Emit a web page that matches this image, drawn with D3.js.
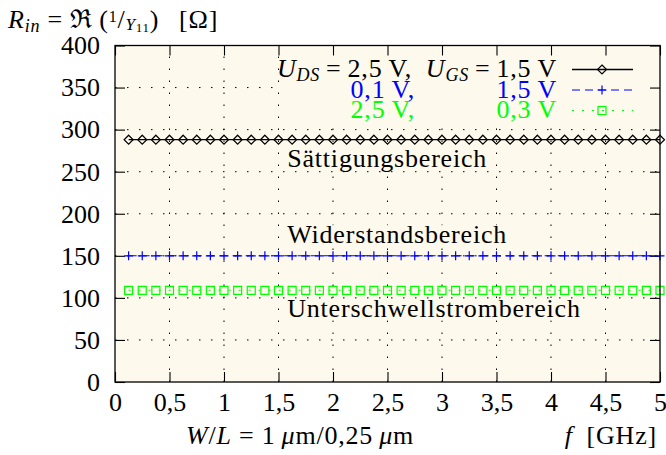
<!DOCTYPE html>
<html>
<head>
<meta charset="utf-8">
<script src="https://cdn.jsdelivr.net/npm/d3@7"></script>
<style>
  body { margin: 0; background: #fff; }
  svg text { font-family: "Liberation Serif", "Times New Roman", serif; fill: #000; }
</style>
</head>
<body>
<svg id="chart" width="666" height="455"></svg>
<script>
// Frequency sweep (GHz) and real part of the input impedance (Ohm)
const freqGHz = [
  0.125, 0.25, 0.375, 0.5, 0.625, 0.75, 0.875, 1.0,
  1.125, 1.25, 1.375, 1.5, 1.625, 1.75, 1.875, 2.0,
  2.125, 2.25, 2.375, 2.5, 2.625, 2.75, 2.875, 3.0,
  3.125, 3.25, 3.375, 3.5, 3.625, 3.75, 3.875, 4.0,
  4.125, 4.25, 4.375, 4.5, 4.625, 4.75, 4.875, 5.0
];
// U_DS = 2,5 V, U_GS = 1,5 V (saturation)
const rinSaturation = [
  288, 288, 288, 288, 288, 288, 288, 288,
  288, 288, 288, 288, 288, 288, 288, 288,
  288, 288, 288, 288, 288, 288, 288, 288,
  288, 288, 288, 288, 288, 288, 288, 288,
  288, 288, 288, 288, 288, 288, 288, 288
];
// U_DS = 0,1 V, U_GS = 1,5 V (triode)
const rinTriode = [
  150, 150, 150, 150, 150, 150, 150, 150,
  150, 150, 150, 150, 150, 150, 150, 150,
  150, 150, 150, 150, 150, 150, 150, 150,
  150, 150, 150, 150, 150, 150, 150, 150,
  150, 150, 150, 150, 150, 150, 150, 150
];
// U_DS = 2,5 V, U_GS = 0,3 V (subthreshold)
const rinSubthreshold = [
  109, 109, 109, 109, 109, 109, 109, 109,
  109, 109, 109, 109, 109, 109, 109, 109,
  109, 109, 109, 109, 109, 109, 109, 109,
  109, 109, 109, 109, 109, 109, 109, 109,
  109, 109, 109, 109, 109, 109, 109, 109
];
const xTicks = [0, 0.5, 1, 1.5, 2, 2.5, 3, 3.5, 4, 4.5, 5];
const yTicks = [0, 50, 100, 150, 200, 250, 300, 350, 400];
const regionNames = ["Sättigungsbereich", "Widerstandsbereich", "Unterschwellstrombereich"];

const FS = 26;
const LS = 0.8;
const BG = "#fdf9ec";
const svg = d3.select("#chart");

const plot = { left: 115, right: 660, top: 45.5, bottom: 382 };
const x = d3.scaleLinear().domain([0, 5]).range([plot.left, plot.right]);
const y = d3.scaleLinear().domain([0, 400]).range([plot.bottom, plot.top]);
const fmt = d => String(d).replace(".", ",");

// plot background
svg.append("rect")
  .attr("x", plot.left).attr("y", plot.top)
  .attr("width", plot.right - plot.left).attr("height", plot.bottom - plot.top)
  .attr("fill", BG);

// dotted grid
const grid = svg.append("g").attr("stroke", "#000").attr("stroke-width", 1)
  .attr("stroke-dasharray", "1.5,10.5").attr("fill", "none");
grid.selectAll("line.v").data(xTicks.slice(1, -1)).join("line")
  .attr("x1", d => x(d)).attr("x2", d => x(d))
  .attr("y1", plot.bottom).attr("y2", plot.top);
grid.selectAll("line.h").data(yTicks.slice(1, -1)).join("line")
  .attr("y1", d => y(d)).attr("y2", d => y(d))
  .attr("x1", plot.left).attr("x2", plot.right);

// opaque box behind the key
svg.append("rect").attr("x", 282).attr("y", plot.top)
  .attr("width", plot.right - 282).attr("height", 124 - plot.top).attr("fill", BG);

// region labels, each on an opaque box
const regionAt = [
  { name: regionNames[0], f: 1.58, r: 256 },
  { name: regionNames[1], f: 1.58, r: 165 },
  { name: regionNames[2], f: 1.58, r: 77 }
];
const regionG = svg.append("g");
regionAt.forEach(l => {
  const t = regionG.append("text")
    .attr("x", x(l.f)).attr("y", y(l.r))
    .attr("font-size", FS).attr("letter-spacing", LS).text(l.name);
  const bb = t.node().getBBox();
  regionG.insert("rect", "text")
    .attr("x", bb.x - 3).attr("y", bb.y + 5)
    .attr("width", bb.width + 5).attr("height", bb.height - 8)
    .attr("fill", BG);
});

// axes (ticks inward on all four sides)
function styleAxis(g) {
  g.select(".domain").remove();
  g.selectAll(".tick line").attr("stroke", "#000").attr("stroke-width", 1.1);
  g.selectAll(".tick text").attr("font-size", FS)
    .attr("font-family", "Liberation Serif, serif").attr("fill", "#000");
}
svg.append("g").attr("transform", `translate(0,${plot.bottom})`)
  .call(d3.axisBottom(x).tickValues(xTicks).tickSize(-10).tickPadding(11).tickFormat(fmt))
  .call(styleAxis);
svg.append("g").attr("transform", `translate(0,${plot.top})`)
  .call(d3.axisTop(x).tickValues(xTicks).tickSize(-10).tickFormat(""))
  .call(styleAxis);
svg.append("g").attr("transform", `translate(${plot.left},0)`)
  .call(d3.axisLeft(y).tickValues(yTicks).tickSize(-10).tickPadding(15).tickFormat(fmt))
  .call(styleAxis);
svg.append("g").attr("transform", `translate(${plot.right},0)`)
  .call(d3.axisRight(y).tickValues(yTicks).tickSize(-10).tickFormat(""))
  .call(styleAxis);

// series
const series = [
  { vals: rinSaturation, color: "#000", dash: null, width: 1.3, marker: "diamond" },
  { vals: rinTriode, color: "#0000ff", dash: "8,5", width: 1.1, marker: "plus" },
  { vals: rinSubthreshold, color: "#00ff00", dash: "2,8", width: 1.1, marker: "square" }
];
const markerPath = {
  diamond: "M0,-4.5L4.5,0L0,4.5L-4.5,0Z",
  plus: "M-4.5,0H4.5M0,-4.5V4.5",
  square: "M-4,-4H4V4H-4Z"
};
function drawMarker(g, kind, cx, cy, color) {
  g.append("path").attr("d", markerPath[kind])
    .attr("transform", `translate(${cx},${cy})`)
    .attr("fill", "none").attr("stroke", color).attr("stroke-width", 1.2);
}
const line = d3.line().x(d => x(d[0])).y(d => y(d[1]));
const seriesG = svg.append("g");
series.forEach(s => {
  const pts = freqGHz.map((f, i) => [f, s.vals[i]]);
  seriesG.append("path").datum(pts).attr("d", line)
    .attr("fill", "none").attr("stroke", s.color).attr("stroke-width", s.width)
    .attr("stroke-dasharray", s.dash);
  pts.forEach(p => drawMarker(seriesG, s.marker, x(p[0]), y(p[1]), s.color));
});

// border
svg.append("rect")
  .attr("x", plot.left).attr("y", plot.top)
  .attr("width", plot.right - plot.left).attr("height", plot.bottom - plot.top)
  .attr("fill", "none").attr("stroke", "#000").attr("stroke-width", 1.3);

// key
const key = svg.append("g").attr("font-size", FS).attr("letter-spacing", LS);
function mathU(t, sub, rest) {
  t.append("tspan").attr("font-style", "italic").text("U");
  t.append("tspan").attr("font-style", "italic").attr("font-size", 18).attr("dy", 4).text(sub);
  t.append("tspan").attr("dy", -4).text(rest);
}
const rowBase = [77, 97.5, 118];
let t = key.append("text").attr("x", 412).attr("y", rowBase[0]).attr("text-anchor", "end");
mathU(t, "DS", "\u2009=\u20092,5\u2009V,");
t = key.append("text").attr("x", 557).attr("y", rowBase[0]).attr("text-anchor", "end");
mathU(t, "GS", "\u2009=\u20091,5\u2009V");
key.append("text").attr("x", 415).attr("y", rowBase[1]).attr("text-anchor", "end")
  .style("fill", "#0000ff").text("0,1\u2009V,");
key.append("text").attr("x", 557).attr("y", rowBase[1]).attr("text-anchor", "end")
  .style("fill", "#0000ff").text("1,5\u2009V");
key.append("text").attr("x", 415).attr("y", rowBase[2]).attr("text-anchor", "end")
  .style("fill", "#00ff00").text("2,5\u2009V,");
key.append("text").attr("x", 557).attr("y", rowBase[2]).attr("text-anchor", "end")
  .style("fill", "#00ff00").text("0,3\u2009V");
series.forEach((s, i) => {
  const ly = rowBase[i] - 7.5;
  key.append("line").attr("x1", 572).attr("x2", 633).attr("y1", ly).attr("y2", ly)
    .attr("stroke", s.color).attr("stroke-width", s.width).attr("stroke-dasharray", s.dash);
  drawMarker(key, s.marker, 602, ly, s.color);
});

// y-axis title: R_in = Re(1/Y11) [Ohm]
const yt = svg.append("text").attr("x", 8).attr("y", 28).attr("font-size", FS)
  .attr("letter-spacing", LS);
yt.append("tspan").attr("font-style", "italic").text("R");
yt.append("tspan").attr("font-style", "italic").attr("font-size", 18).attr("dy", 4).text("in");
yt.append("tspan").attr("dy", -4).text(" = \u211C\u2009(");
yt.append("tspan").attr("font-size", 16).attr("dy", -6).text("1");
yt.append("tspan").attr("dy", 6).text("/");
yt.append("tspan").attr("font-style", "italic").attr("font-size", 17).attr("dy", 2).text("Y");
yt.append("tspan").attr("font-size", 13).attr("dy", 2).text("11");
yt.append("tspan").attr("dy", -4).text(")\u2002\u2009[\u03A9]");

// x-axis titles
const xt = svg.append("text").attr("x", 300).attr("y", 444).attr("font-size", FS)
  .attr("letter-spacing", LS).attr("text-anchor", "middle");
xt.append("tspan").attr("font-style", "italic").text("W");
xt.append("tspan").text("/");
xt.append("tspan").attr("font-style", "italic").text("L");
xt.append("tspan").text(" = 1\u2009");
xt.append("tspan").attr("font-style", "italic").text("\u03BC");
xt.append("tspan").text("m/0,25\u2009");
xt.append("tspan").attr("font-style", "italic").text("\u03BC");
xt.append("tspan").text("m");
const ft = svg.append("text").attr("x", 657).attr("y", 444).attr("font-size", FS)
  .attr("letter-spacing", LS).attr("text-anchor", "end");
ft.append("tspan").attr("font-style", "italic").text("f");
ft.append("tspan").text("\u2002[GHz]");
</script>
</body>
</html>
